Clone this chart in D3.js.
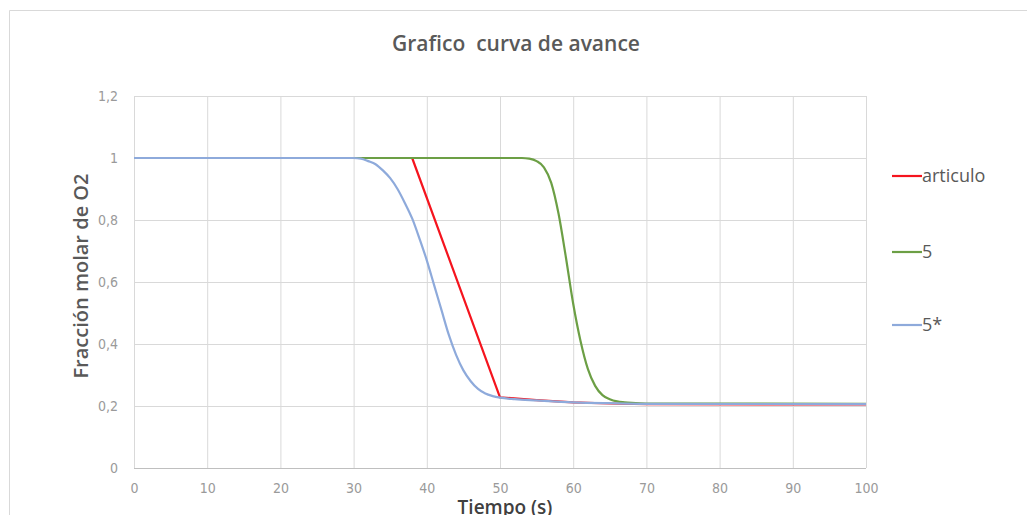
<!DOCTYPE html>
<html><head><meta charset="utf-8">
<script src="https://cdn.jsdelivr.net/npm/d3@7"></script>
<style>
body{margin:0;background:#fff;}
svg{display:block;}
text{white-space:pre;}
</style></head>
<body>
<svg id="c" width="1027" height="515"></svg>
<script>
// ---- data ----
const xTicks = [0,10,20,30,40,50,60,70,80,90,100];
const yTicks = [0,0.2,0.4,0.6,0.8,1,1.2];
const seriesNames = ["articulo","5","5*"];
const articuloT = [0,38,50,55,60,65,70,100];
const articuloY = [1,1,0.228,0.219,0.212,0.208,0.206,0.205];
const s5T = [0,53,54,55,56,57,58,59,60,61,62,63,64,65,66,67,68,70,100];
const s5Y = [1,1,0.998,0.99,0.97,0.92,0.82,0.68,0.53,0.41,0.32,0.265,0.235,0.222,0.215,0.212,0.21,0.208,0.207];
const s5sT = [0,30,31,32,33,34,35,36,37,38,39,40,41,42,43,44,45,46,47,48,49,50,52,55,60,65,70,100];
const s5sY = [1,1,0.998,0.99,0.98,0.96,0.935,0.9,0.855,0.805,0.74,0.67,0.59,0.51,0.43,0.365,0.315,0.28,0.255,0.24,0.232,0.227,0.222,0.218,0.212,0.209,0.207,0.206];
const colors = ["#f5141e","#6c9f45","#8eaadb"];

const svg = d3.select("#c");
const m = {l:134, r:866, t:96, b:468};
const x = d3.scaleLinear().domain([0,100]).range([m.l,m.r]);
const y = d3.scaleLinear().domain([0,1.2]).range([m.b,m.t]);
const fmt = d => String(d).replace(".",",");

// outer border
svg.append("path").attr("d","M9.5,515 L9.5,10.5 L1027,10.5").attr("fill","none").attr("stroke","#d9d9d9");

// grid
svg.append("g").selectAll("line").data(xTicks).join("line")
  .attr("x1",d=>x(d)+0.5).attr("x2",d=>x(d)+0.5).attr("y1",m.t).attr("y2",m.b)
  .attr("stroke","#d9d9d9");
svg.append("g").selectAll("line").data(yTicks).join("line")
  .attr("x1",m.l).attr("x2",m.r).attr("y1",d=>Math.round(y(d))+0.5).attr("y2",d=>Math.round(y(d))+0.5)
  .attr("stroke",d=>d===0?"#bfbfbf":"#d9d9d9");

// axes labels
const tickFont = "'Liberation Sans Narrow','DejaVu Sans Condensed',sans-serif";
const xa = d3.axisBottom(x).tickValues(xTicks).tickFormat(fmt).tickSize(0).tickPadding(15);
const gx = svg.append("g").attr("transform",`translate(0,${m.b})`).call(xa);
gx.select(".domain").remove();
gx.selectAll("text").attr("fill","#9a9a9a").attr("font-size",14).attr("font-family",tickFont);
const ya = d3.axisLeft(y).tickValues(yTicks).tickFormat(fmt).tickSize(0).tickPadding(16);
const gy = svg.append("g").attr("transform",`translate(${m.l},0)`).call(ya);
gy.select(".domain").remove();
gy.selectAll("text").attr("fill","#9a9a9a").attr("font-size",14).attr("font-family",tickFont);

// lines
const data = [
  articuloT.map((t,i)=>[t,articuloY[i]]),
  s5T.map((t,i)=>[t,s5Y[i]]),
  s5sT.map((t,i)=>[t,s5sY[i]])
];
const line = d3.line().x(d=>x(d[0])).y(d=>y(d[1])).curve(d3.curveMonotoneX);
const lineLin = d3.line().x(d=>x(d[0])).y(d=>y(d[1]));
svg.append("g").selectAll("path").data(data).join("path")
  .attr("d",(d,i)=>i===0?lineLin(d):line(d))
  .attr("fill","none").attr("stroke",(d,i)=>colors[i]).attr("stroke-width",2.2)
  .attr("stroke-linejoin","round");

// title
svg.append("text").attr("x",516).attr("y",51).attr("text-anchor","middle")
  .attr("font-family","'Open Sans',sans-serif").attr("font-weight",600).attr("font-size",21)
  .attr("fill","#595959").text("Grafico  curva de avance");

// axis titles
svg.append("text").attr("transform","translate(88,276) rotate(-90)").attr("text-anchor","middle")
  .attr("font-family","'Open Sans',sans-serif").attr("font-weight",600).attr("font-size",20)
  .attr("fill","#595959").text("Fracción molar de O2");
svg.append("text").attr("x",505).attr("y",514).attr("text-anchor","middle")
  .attr("font-family","'Open Sans',sans-serif").attr("font-weight",600).attr("font-size",19)
  .attr("fill","#404040").text("Tiempo (s)");

// legend
const ly = [176,252,325];
const lg = svg.append("g").selectAll("g").data(seriesNames).join("g")
  .attr("transform",(d,i)=>`translate(892,${ly[i]})`);
lg.append("line").attr("x1",0).attr("x2",30).attr("stroke",(d,i)=>colors[i]).attr("stroke-width",2.2);
lg.append("text").attr("x",30).attr("dy","0.36em").attr("font-family","'Open Sans',sans-serif")
  .attr("font-size",18).attr("fill","#595959").text(d=>d);
</script>
</body></html>
